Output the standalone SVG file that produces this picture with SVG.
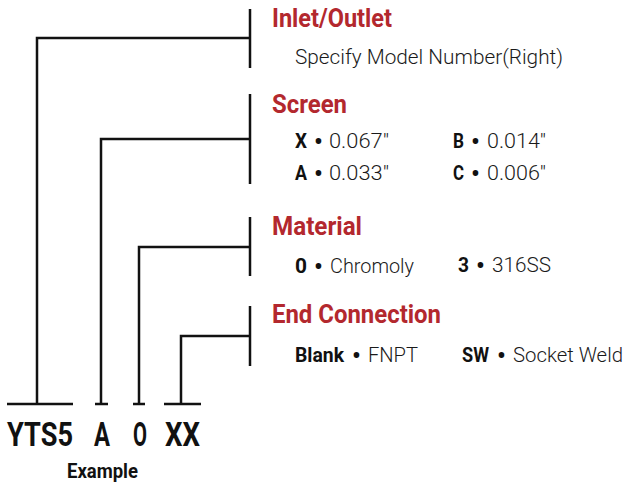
<svg xmlns="http://www.w3.org/2000/svg" width="625" height="483" viewBox="0 0 625 483">
<style>
.ln{fill:none;stroke:#111;stroke-width:2.5;stroke-linecap:butt}
.hd{font-family:Roboto,"Liberation Sans",sans-serif;font-weight:700;font-size:25px;fill:#B3282E}
.bd{font-family:Roboto,"Liberation Sans",sans-serif;font-weight:300;font-size:20px;fill:#1a1a1a}
.bu{font-family:Roboto,"Liberation Sans",sans-serif;font-weight:400;font-size:28px;fill:#111;text-anchor:middle}
.ky{font-family:Roboto,"Liberation Sans",sans-serif;font-weight:700;font-size:20px;fill:#111}
.code{font-family:Roboto,"Liberation Sans",sans-serif;font-weight:700;font-size:33px;fill:#111}
.ex{font-family:Roboto,"Liberation Sans",sans-serif;font-weight:700;font-size:20px;fill:#111}
</style>
<rect width="625" height="483" fill="#fff"/>
<g id="connectors">
<path class="ln" d="M250 9V68M250 38H37V404"/>
<path class="ln" d="M250 94V184M250 139H101V404"/>
<path class="ln" d="M250 217V276M250 247H139V404"/>
<path class="ln" d="M250 306V366M250 336H181V404"/>
<path class="ln" d="M7 404H73M95 404H108M133 404H145M164 404H201"/>
</g>
<g id="code">
<text class="code" x="7" y="446" textLength="66" lengthAdjust="spacingAndGlyphs">YTS5</text>
<text class="code" x="94" y="446" textLength="16" lengthAdjust="spacingAndGlyphs">A</text>
<text class="code" x="133" y="446" textLength="14" lengthAdjust="spacingAndGlyphs">O</text>
<text class="code" x="165" y="446" textLength="35" lengthAdjust="spacingAndGlyphs">XX</text>
<text class="ex" x="67" y="478" textLength="71" lengthAdjust="spacingAndGlyphs">Example</text>
</g>
<g id="inlet">
<text class="hd" x="272" y="27" textLength="120" lengthAdjust="spacingAndGlyphs">Inlet/Outlet</text>
<text class="bd" x="295" y="64" textLength="268" lengthAdjust="spacingAndGlyphs">Specify Model Number(Right)</text>
</g>
<g id="screen">
<text class="hd" x="272" y="113" textLength="75" lengthAdjust="spacingAndGlyphs">Screen</text>
<text class="ky" x="295" y="148" textLength="12" lengthAdjust="spacingAndGlyphs">X</text>
<text class="bu" x="318.5" y="151">•</text>
<text class="bd" x="329" y="148" textLength="60" lengthAdjust="spacingAndGlyphs">0.067"</text>
<text class="ky" x="453" y="148" textLength="11" lengthAdjust="spacingAndGlyphs">B</text>
<text class="bu" x="475.5" y="151">•</text>
<text class="bd" x="487" y="148" textLength="59" lengthAdjust="spacingAndGlyphs">0.014"</text>
<text class="ky" x="295" y="180" textLength="12" lengthAdjust="spacingAndGlyphs">A</text>
<text class="bu" x="318.5" y="183">•</text>
<text class="bd" x="329" y="180" textLength="60" lengthAdjust="spacingAndGlyphs">0.033"</text>
<text class="ky" x="453" y="180" textLength="11" lengthAdjust="spacingAndGlyphs">C</text>
<text class="bu" x="475.5" y="183">•</text>
<text class="bd" x="487" y="180" textLength="59" lengthAdjust="spacingAndGlyphs">0.006"</text>
</g>
<g id="material">
<text class="hd" x="272" y="235" textLength="90" lengthAdjust="spacingAndGlyphs">Material</text>
<text class="ky" x="295" y="273" textLength="12" lengthAdjust="spacingAndGlyphs">0</text>
<text class="bu" x="318.5" y="276">•</text>
<text class="bd" x="330" y="273" textLength="84" lengthAdjust="spacingAndGlyphs">Chromoly</text>
<text class="ky" x="458" y="272" textLength="11" lengthAdjust="spacingAndGlyphs">3</text>
<text class="bu" x="480.5" y="275">•</text>
<text class="bd" x="492" y="272" textLength="59" lengthAdjust="spacingAndGlyphs">316SS</text>
</g>
<g id="end-connection">
<text class="hd" x="272" y="323" textLength="169" lengthAdjust="spacingAndGlyphs">End Connection</text>
<text class="ky" x="295" y="362" textLength="49" lengthAdjust="spacingAndGlyphs">Blank</text>
<text class="bu" x="356.5" y="365">•</text>
<text class="bd" x="368" y="362" textLength="50" lengthAdjust="spacingAndGlyphs">FNPT</text>
<text class="ky" x="462" y="362" textLength="27" lengthAdjust="spacingAndGlyphs">SW</text>
<text class="bu" x="501.5" y="365">•</text>
<text class="bd" x="513" y="362" textLength="110" lengthAdjust="spacingAndGlyphs">Socket Weld</text>
</g>
</svg>
